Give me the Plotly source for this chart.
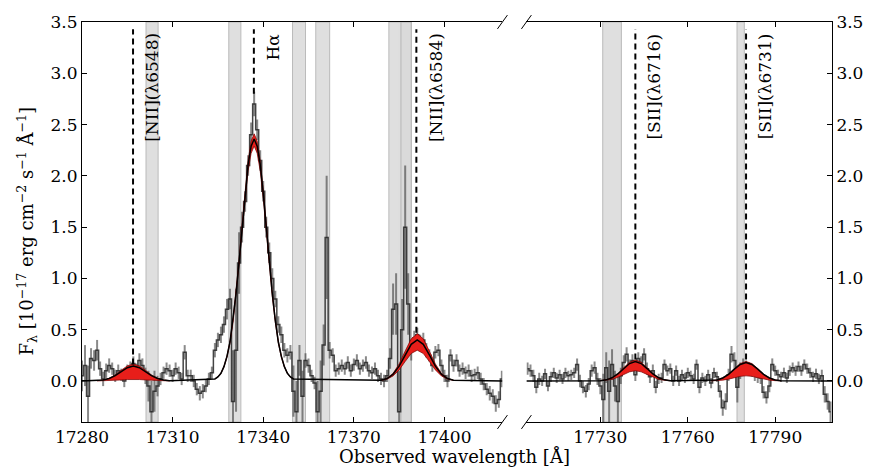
import plotly.graph_objects as go

# ---------------- data ----------------
left_wl = list(range(17280, 17420))
left_flux = [
    0.05, 0.15, -0.15, 0.22, 0.20, 0.30, 0.12, 0.02, 0.10, 0.15,   # 17280-17289
    0.12, 0.05, 0.10, 0.06, 0.00, 0.10, 0.12, 0.17, 0.10, 0.20,    # 17290-17299
    0.15, 0.05, -0.05, -0.30, -0.10, -0.05, 0.02, 0.08, 0.12, 0.10,  # 17300-17309
    0.05, 0.12, 0.08, 0.02, 0.28, 0.05, 0.05, 0.00, -0.08, -0.12,  # 17310-17319
    -0.10, -0.05, 0.02, 0.08, 0.30, 0.40, 0.45, 0.55, 0.70, 0.80,  # 17320-17329
    -0.20, 0.30, 1.15, 1.50, 1.75, 2.10, 2.40, 2.70, 2.45, 2.15,   # 17330-17339
    1.85, 1.50, 1.25, 1.00, 0.80, 0.55, 0.45, 0.30, 0.25, 0.28,    # 17340-17349
    -0.10, -0.30, 0.20, -0.15, 0.20, 0.15, 0.05, -0.02, -0.30, -0.10,  # 17350-17359
    0.35, 1.40, 0.30, 0.25, 0.10, 0.12, 0.15, 0.12, 0.18, 0.10,    # 17360-17369
    0.16, 0.20, 0.12, 0.15, 0.18, 0.10, 0.08, 0.12, 0.05, 0.02,    # 17370-17379
    0.00, 0.05, 0.22, 0.70, 0.75, -0.30, 0.50, 1.50, 0.75, 0.30,   # 17380-17389
    0.42, 0.45, 0.38, 0.40, 0.30, 0.25, 0.15, 0.28, 0.30, 0.15,    # 17390-17399
    0.05, 0.00, 0.25, 0.15, 0.20, 0.10, 0.12, 0.08, 0.10, 0.05,    # 17400-17409
    0.06, 0.08, 0.02, -0.03, -0.08, -0.12, -0.15, -0.22, -0.18, 0.02,  # 17410-17419
]
left_err = [
    0.15, 0.20, 0.30, 0.10, 0.10, 0.10, 0.07, 0.07, 0.07, 0.07,
    0.06, 0.06, 0.06, 0.06, 0.06, 0.06, 0.07, 0.07, 0.07, 0.07,
    0.07, 0.08, 0.15, 0.30, 0.20, 0.10, 0.06, 0.06, 0.06, 0.06,
    0.06, 0.06, 0.06, 0.06, 0.07, 0.06, 0.06, 0.06, 0.06, 0.07,
    0.07, 0.06, 0.06, 0.06, 0.07, 0.07, 0.08, 0.08, 0.10, 0.10,
    0.50, 0.60, 0.30, 0.15, 0.10, 0.10, 0.12, 0.12, 0.10, 0.10,
    0.10, 0.10, 0.10, 0.10, 0.08, 0.08, 0.08, 0.07, 0.07, 0.07,
    0.25, 0.30, 0.15, 0.25, 0.07, 0.07, 0.06, 0.06, 0.30, 0.30,
    0.20, 0.60, 0.08, 0.07, 0.06, 0.06, 0.06, 0.06, 0.06, 0.06,
    0.06, 0.06, 0.06, 0.06, 0.06, 0.06, 0.06, 0.06, 0.06, 0.06,
    0.06, 0.06, 0.10, 0.25, 0.30, 0.40, 0.30, 0.60, 0.30, 0.10,
    0.07, 0.07, 0.07, 0.07, 0.07, 0.06, 0.06, 0.06, 0.06, 0.06,
    0.06, 0.06, 0.06, 0.06, 0.06, 0.06, 0.06, 0.06, 0.06, 0.06,
    0.06, 0.06, 0.06, 0.06, 0.06, 0.07, 0.07, 0.08, 0.08, 0.08,
]

right_wl = list(range(17705, 17810))
right_flux = [
    0.12, 0.10, 0.05, -0.06, 0.02,                                   # 17705-17709
    0.00, 0.07, -0.05, 0.04, 0.08, 0.03, 0.06, 0.02, 0.08, 0.05,     # 17710-17719
    0.06, 0.08, 0.16, 0.00, -0.06, -0.10, -0.03, 0.10, 0.13, 0.02,   # 17720-17729
    -0.05, -0.18, 0.13, -0.10, 0.16, -0.05, -0.20, 0.05, 0.18, 0.26, # 17730-17739
    0.15, 0.20, 0.06, 0.22, 0.18, 0.26, 0.12, 0.04, 0.10, -0.06,     # 17740-17749
    0.02, 0.03, 0.16, 0.10, 0.12, 0.00, 0.10, 0.00, 0.06, 0.03,      # 17750-17759
    0.08, 0.05, 0.02, 0.16, -0.06, 0.03, 0.00, 0.06, -0.02, 0.08,    # 17760-17769
    0.04, -0.10, -0.26, -0.20, 0.06, 0.26, 0.20, -0.06, 0.10, 0.16,  # 17770-17779
    0.14, 0.12, 0.10, 0.06, 0.04, 0.03, -0.11, -0.16, -0.05, 0.16,   # 17780-17789
    0.10, 0.06, 0.04, 0.08, 0.03, 0.10, 0.13, 0.10, 0.14, 0.10,      # 17790-17799
    0.16, 0.12, 0.08, 0.04, 0.07, 0.02, 0.05, -0.13, -0.20, -0.30,   # 17800-17809
]
right_err = [
    0.06, 0.06, 0.06, 0.06, 0.06,
    0.05, 0.05, 0.05, 0.05, 0.05, 0.05, 0.05, 0.05, 0.05, 0.05,
    0.05, 0.05, 0.06, 0.06, 0.06, 0.06, 0.06, 0.06, 0.06, 0.06,
    0.08, 0.25, 0.15, 0.30, 0.15, 0.15, 0.25, 0.08, 0.07, 0.07,
    0.06, 0.06, 0.06, 0.06, 0.06, 0.06, 0.06, 0.06, 0.06, 0.06,
    0.05, 0.05, 0.05, 0.05, 0.05, 0.05, 0.05, 0.05, 0.05, 0.05,
    0.05, 0.05, 0.05, 0.05, 0.06, 0.05, 0.05, 0.05, 0.05, 0.05,
    0.05, 0.06, 0.08, 0.08, 0.06, 0.08, 0.08, 0.15, 0.08, 0.06,
    0.06, 0.06, 0.06, 0.06, 0.06, 0.06, 0.06, 0.06, 0.06, 0.06,
    0.05, 0.05, 0.05, 0.05, 0.05, 0.05, 0.05, 0.05, 0.05, 0.05,
    0.05, 0.05, 0.05, 0.05, 0.05, 0.05, 0.06, 0.08, 0.08, 0.10,
]

# emission-line markers
line_names = ["[NII](λ6548)", "Hα", "[NII](λ6584)", "[SII](λ6716)", "[SII](λ6731)"]
line_wl = [17296.9, 17336.9, 17390.7, 17742.0, 17780.0]
line_panel = ["x", "x", "x", "x2", "x2"]
dash_bottom = [0.16, 2.80, 0.47, 0.21, 0.21]
dash_top = 3.43

# sky-line regions (Å)
sky_left = [(17301.2, 17305.2), (17328.6, 17332.6), (17349.7, 17354.0),
            (17357.4, 17362.0), (17381.6, 17389.0), (17385.6, 17389.0)]
sky_right = [(17730.8, 17737.2), (17776.9, 17779.4)]

# model fits (best fit, upper and lower envelopes)
n1_wl = list(range(17285, 17310, 2))
n1_model = [0.003, 0.009, 0.024, 0.052, 0.092, 0.129, 0.145, 0.129, 0.092, 0.052, 0.024, 0.009, 0.003]
n1_upper = [0.003, 0.010, 0.027, 0.059, 0.105, 0.147, 0.165, 0.147, 0.105, 0.059, 0.027, 0.010, 0.003]
n1_lower = [0.000, 0.001, 0.003, 0.006, 0.010, 0.014, 0.016, 0.014, 0.010, 0.006, 0.003, 0.001, 0.000]

ha_wl = list(range(17324, 17351))
ha_model = [0.02, 0.04, 0.075, 0.14, 0.24, 0.38, 0.59, 0.85, 1.16, 1.50, 1.83, 2.11, 2.29, 2.36,
            2.29, 2.11, 1.83, 1.50, 1.16, 0.85, 0.59, 0.38, 0.24, 0.14, 0.075, 0.04, 0.02]
ha_upper = [0.02, 0.041, 0.077, 0.143, 0.245, 0.39, 0.60, 0.87, 1.18, 1.53, 1.87, 2.15, 2.34, 2.41,
            2.34, 2.15, 1.87, 1.53, 1.18, 0.87, 0.60, 0.39, 0.245, 0.143, 0.077, 0.041, 0.02]
ha_lower = [0.019, 0.039, 0.073, 0.136, 0.23, 0.37, 0.57, 0.82, 1.13, 1.46, 1.78, 2.05, 2.22, 2.29,
            2.22, 2.05, 1.78, 1.46, 1.13, 0.82, 0.57, 0.37, 0.23, 0.136, 0.073, 0.039, 0.019]

n2_wl = list(range(17379, 17404, 2))
n2_model = [0.007, 0.024, 0.065, 0.144, 0.254, 0.357, 0.40, 0.357, 0.254, 0.144, 0.065, 0.024, 0.007]
n2_upper = [0.008, 0.027, 0.075, 0.166, 0.292, 0.411, 0.46, 0.411, 0.292, 0.166, 0.075, 0.027, 0.008]
n2_lower = [0.005, 0.018, 0.049, 0.108, 0.190, 0.268, 0.30, 0.268, 0.190, 0.108, 0.049, 0.018, 0.005]

s1_wl = list(range(17730, 17755, 2))
s1_model = [0.003, 0.011, 0.031, 0.068, 0.121, 0.170, 0.19, 0.170, 0.121, 0.068, 0.031, 0.011, 0.003]
s1_upper = [0.004, 0.012, 0.033, 0.074, 0.130, 0.183, 0.205, 0.183, 0.130, 0.074, 0.033, 0.012, 0.004]
s1_lower = [0.002, 0.006, 0.016, 0.036, 0.064, 0.089, 0.10, 0.089, 0.064, 0.036, 0.016, 0.006, 0.002]

s2_wl = list(range(17768, 17793, 2))
s2_model = [0.003, 0.010, 0.029, 0.065, 0.115, 0.161, 0.18, 0.161, 0.115, 0.065, 0.029, 0.010, 0.003]
s2_upper = [0.003, 0.011, 0.031, 0.068, 0.121, 0.170, 0.19, 0.170, 0.121, 0.068, 0.031, 0.011, 0.003]
s2_lower = [0.001, 0.003, 0.008, 0.018, 0.032, 0.045, 0.05, 0.045, 0.032, 0.018, 0.008, 0.003, 0.001]

x_ticks_left = [17280, 17310, 17340, 17370, 17400]
x_ticks_right = [17730, 17760, 17790]
y_ticks = [0.0, 0.5, 1.0, 1.5, 2.0, 2.5, 3.0, 3.5]
x_range_left = [17280, 17419.2]
x_range_right = [17704.6, 17809.5]
y_range = [-0.4, 3.5]

# ---------------- styling ----------------
FONT = "DejaVu Serif"
DATA_COL = "rgba(35,35,35,0.85)"
ERR_COL = "rgba(60,60,60,0.6)"
RED = "rgb(232,30,26)"
DARKRED = "rgb(120,0,0)"
SKY_FILL = "rgb(218,218,218)"
SKY_LINE = "rgb(175,175,175)"

fig = go.Figure()

# spectra
for wl, fl, er, xa, ya in [(left_wl, left_flux, left_err, "x", "y"),
                           (right_wl, right_flux, right_err, "x2", "y2")]:
    fig.add_trace(go.Scatter(
        x=wl, y=fl, mode="lines", line=dict(color=DATA_COL, width=1.5, shape="hvh"),
        error_y=dict(type="data", array=er, visible=True, color=ERR_COL, thickness=2, width=0),
        xaxis=xa, yaxis=ya, showlegend=False, hoverinfo="skip"))

# red envelopes
for wl, lo, up, xa, ya in [(n1_wl, n1_lower, n1_upper, "x", "y"),
                           (ha_wl, ha_lower, ha_upper, "x", "y"),
                           (n2_wl, n2_lower, n2_upper, "x", "y"),
                           (s1_wl, s1_lower, s1_upper, "x2", "y2"),
                           (s2_wl, s2_lower, s2_upper, "x2", "y2")]:
    fig.add_trace(go.Scatter(x=wl, y=lo, mode="lines", line=dict(color=DARKRED, width=0.7),
                             xaxis=xa, yaxis=ya, showlegend=False, hoverinfo="skip"))
    fig.add_trace(go.Scatter(x=wl, y=up, mode="lines", line=dict(color=DARKRED, width=0.7),
                             fill="tonexty", fillcolor=RED,
                             xaxis=xa, yaxis=ya, showlegend=False, hoverinfo="skip"))

# best-fit model on zero continuum
left_model_x = [x_range_left[0]] + n1_wl + ha_wl + n2_wl + [x_range_left[1]]
left_model_y = [0.0] + n1_model + ha_model + n2_model + [0.0]
right_model_x = [x_range_right[0]] + s1_wl + s2_wl + [x_range_right[1]]
right_model_y = [0.0] + s1_model + s2_model + [0.0]
fig.add_trace(go.Scatter(x=left_model_x, y=left_model_y, mode="lines",
                         line=dict(color="black", width=1.5), xaxis="x", yaxis="y",
                         showlegend=False, hoverinfo="skip"))
fig.add_trace(go.Scatter(x=right_model_x, y=right_model_y, mode="lines",
                         line=dict(color="black", width=1.5), xaxis="x2", yaxis="y2",
                         showlegend=False, hoverinfo="skip"))

# dashed line markers and labels
annotations = []
for name, wl, panel, yb in zip(line_names, line_wl, line_panel, dash_bottom):
    ya = "y" if panel == "x" else "y2"
    fig.add_trace(go.Scatter(x=[wl, wl], y=[yb, dash_top], mode="lines",
                             line=dict(color="black", width=2, dash="6px,4px"),
                             xaxis=panel, yaxis=ya, showlegend=False, hoverinfo="skip"))
    annotations.append(dict(x=wl, y=dash_top - 0.02, xref=panel, yref=ya, text=name,
                            showarrow=False, textangle=-90, xanchor="center", yanchor="top",
                            xshift=19, font=dict(family=FONT, size=17, color="black")))

# shapes: sky regions
shapes = []
for a, b in sky_left:
    shapes.append(dict(type="rect", xref="x", yref="paper", x0=a, x1=b, y0=0, y1=1,
                       fillcolor=SKY_FILL, opacity=0.85, line=dict(color=SKY_LINE, width=1),
                       layer="below"))
for a, b in sky_right:
    shapes.append(dict(type="rect", xref="x2", yref="paper", x0=a, x1=b, y0=0, y1=1,
                       fillcolor=SKY_FILL, opacity=0.85, line=dict(color=SKY_LINE, width=1),
                       layer="below"))

# broken-axis marks
L, R, T, B = 82, 42, 17, 54
W, H = 875 - L - R, 476 - T - B
dom_left = [0.0, (503 - L) / W]
dom_right = [(527 - L) / W, 1.0]
dx, dy = 5 / W, 7 / H
for cx in (dom_left[1], dom_right[0]):
    for cy in (0.0, 1.0):
        shapes.append(dict(type="line", xref="paper", yref="paper",
                           x0=cx - dx, y0=cy - dy, x1=cx + dx, y1=cy + dy,
                           line=dict(color="black", width=1)))

# axis titles
annotations.append(dict(x=(455 - L) / W, y=(T + H - 457) / H, xref="paper", yref="paper",
                        text="Observed wavelength [Å]", showarrow=False,
                        xanchor="center", yanchor="middle",
                        font=dict(family=FONT, size=18, color="black")))
annotations.append(dict(x=(27 - L) / W, y=(T + H - 229) / H, xref="paper", yref="paper",
                        text="F<sub>λ</sub> [10<sup>−17</sup> erg cm<sup>−2</sup> s<sup>−1</sup> Å<sup>−1</sup>]",
                        showarrow=False, textangle=-90, xanchor="center", yanchor="middle",
                        font=dict(family=FONT, size=18, color="black")))

tickfont = dict(family=FONT, size=17, color="black")
xcommon = dict(showline=True, linecolor="black", linewidth=1, mirror="allticks",
               ticks="inside", ticklen=5, tickwidth=1, tickcolor="black",
               showgrid=False, zeroline=False, tickfont=tickfont)
ycommon = dict(showline=True, linecolor="black", linewidth=1, mirror=False,
               ticks="inside", ticklen=5, tickwidth=1, tickcolor="black",
               showgrid=False, zeroline=False, tickfont=tickfont, range=y_range,
               tickvals=y_ticks, ticktext=[f"{v:.1f}" for v in y_ticks])

fig.update_layout(
    width=875, height=476,
    margin=dict(l=L, r=R, t=T, b=B),
    paper_bgcolor="white", plot_bgcolor="white",
    xaxis=dict(domain=dom_left, range=x_range_left, anchor="y",
               tickvals=x_ticks_left, ticktext=[str(v) for v in x_ticks_left], **xcommon),
    xaxis2=dict(domain=dom_right, range=x_range_right, anchor="y2",
                tickvals=x_ticks_right, ticktext=[str(v) for v in x_ticks_right], **xcommon),
    yaxis=dict(anchor="x", side="left", **ycommon),
    yaxis2=dict(anchor="x2", side="right", matches="y", **ycommon),
    shapes=shapes, annotations=annotations,
    font=dict(family=FONT, color="black"),
)

fig.write_html("out.html")
